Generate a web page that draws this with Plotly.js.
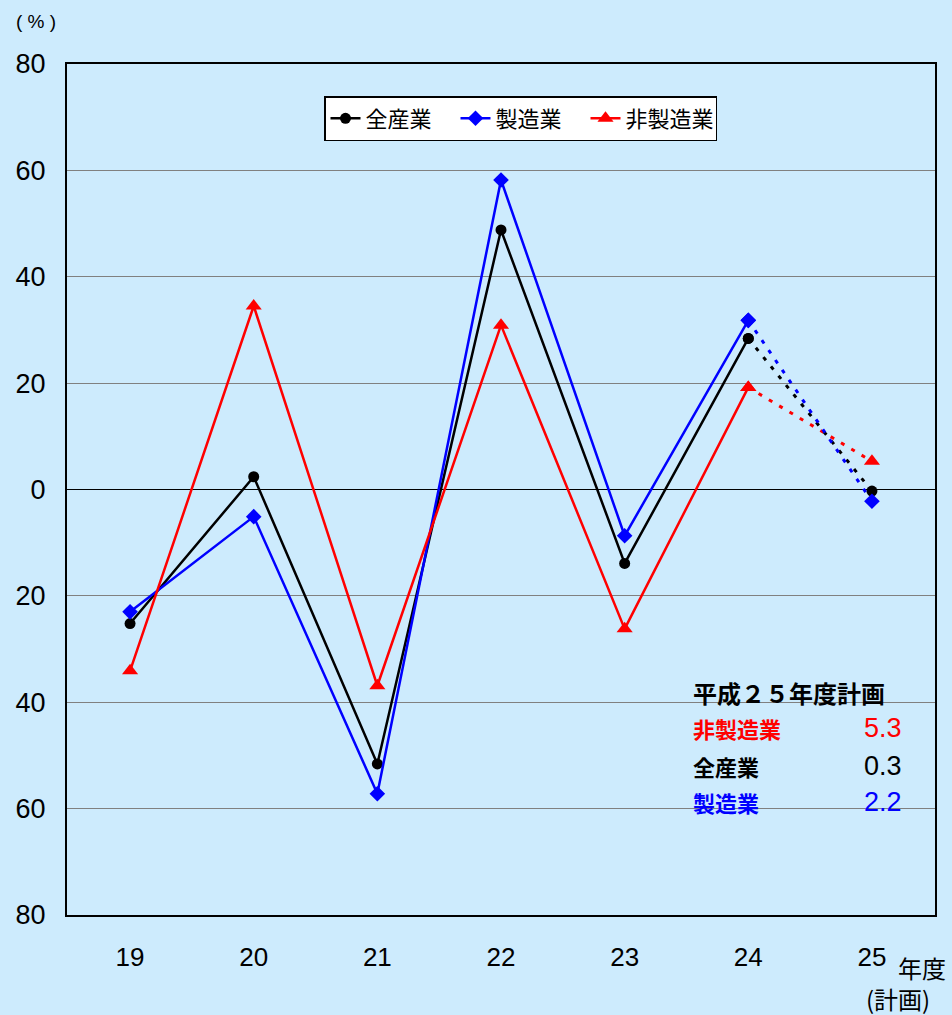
<!DOCTYPE html>
<html><head><meta charset="utf-8">
<script src="https://cdn.plot.ly/plotly-3.0.1.min.js"></script>
<style>html,body{margin:0;padding:0;background:#cdebfd;}</style>
</head><body>
<div id="chart" style="width:952px;height:1015px;"></div>
<script>
const years = [19, 20, 21, 22, 23, 24];
const yearsPlan = [24, 25];
const tickLabels = ["19", "20", "21", "22", "23", "24", "25"];
const allIndustry = [-25.2, 2.4, -51.6, 48.8, -13.9, 28.4];
const manufacturing = [-23.0, -5.1, -57.2, 58.2, -8.7, 31.8];
const nonManufacturing = [-34.1, 34.5, -36.9, 30.9, -26.2, 19.2];
const allIndustryPlan = [28.4, -0.3];
const manufacturingPlan = [31.8, -2.2];
const nonManufacturingPlan = [19.2, 5.3];
const yTickVals = [-80, -60, -40, -20, 0, 20, 40, 60, 80];
const yTickText = ["80", "60", "40", "20", "0", "20", "40", "60", "80"];
const planTitle = "平成２５年度計画";
const planNames = ["非製造業", "全産業", "製造業"];
const planValues = ["5.3", "0.3", "2.2"];

const BG = '#cdebfd';
const L = 67, R = 935, T = 64, B = 915;
const px = x => (x - L) / (R - L);
const py = y => (B - y) / (B - T);
const numFont = 'Liberation Sans, Arial, sans-serif';
const jpFont = 'Noto Sans CJK JP, sans-serif';

function solid(name, x, y, color, symbol, size) {
  return {x, y, name, type: 'scatter', mode: 'lines+markers',
    line: {color, width: 2.5}, marker: {color, symbol, size}};
}
function dotted(x, y, color, symbol, size) {
  return {x, y, type: 'scatter', mode: 'lines+markers', showlegend: false,
    line: {color, width: 3, dash: '4px,8px'}, marker: {color, symbol, size}};
}
const traces = [
  dotted(yearsPlan, nonManufacturingPlan, '#ff0000', 'triangle-up', 14),
  dotted(yearsPlan, allIndustryPlan, '#000000', 'circle', 11),
  dotted(yearsPlan, manufacturingPlan, '#0000ff', 'diamond', 12),
  solid('全産業', years, allIndustry, '#000000', 'circle', 11),
  solid('製造業', years, manufacturing, '#0000ff', 'diamond', 12),
  solid('非製造業', years, nonManufacturing, '#ff0000', 'triangle-up', 14)
];

const ann = [];
ann.push({xref:'paper', yref:'paper', x: px(691), y: py(692), xanchor:'left', yanchor:'middle',
  text: '<b>' + planTitle + '</b>', showarrow:false, font:{family: jpFont, size: 24, color:'#000'}});
const colors = ['#ff0000', '#000000', '#0000ff'];
const rowsY = [728, 766, 802];
for (let i = 0; i < 3; i++) {
  ann.push({xref:'paper', yref:'paper', x: px(691), y: py(rowsY[i]), xanchor:'left', yanchor:'middle',
    text: '<b>' + planNames[i] + '</b>', showarrow:false, font:{family: jpFont, size: 22, color: colors[i]}});
  ann.push({xref:'paper', yref:'paper', x: px(904), y: py(rowsY[i]), xanchor:'right', yanchor:'middle',
    text: planValues[i], showarrow:false, font:{family: numFont, size: 27, color: colors[i]}});
}
ann.push({xref:'paper', yref:'paper', x: px(36), y: py(22), xanchor:'center', yanchor:'middle',
  text: '( % )', showarrow:false, font:{family: numFont, size: 19, color:'#000'}});
ann.push({xref:'paper', yref:'paper', x: px(922), y: py(968), xanchor:'center', yanchor:'middle',
  text: '年度', showarrow:false, font:{family: jpFont, size: 24, color:'#000'}});
ann.push({xref:'paper', yref:'paper', x: px(898), y: py(999), xanchor:'center', yanchor:'middle',
  text: '(計画)', showarrow:false, font:{family: jpFont, size: 24, color:'#000'}});

const layout = {
  width: 952, height: 1015,
  margin: {l: L, r: 952 - R, t: T, b: 1015 - B},
  paper_bgcolor: BG, plot_bgcolor: BG,
  font: {family: numFont, color: '#000'},
  xaxis: {range: [18.49, 25.51], tickvals: [19,20,21,22,23,24,25], ticktext: tickLabels,
    showgrid: false, zeroline: false, showline: true, linecolor: '#000', linewidth: 2, mirror: true,
    ticks: '', ticklabelstandoff: 18, tickfont: {family: numFont, size: 26, color: '#000'}, fixedrange: true},
  yaxis: {range: [-80, 80], tickvals: yTickVals, ticktext: yTickText,
    showgrid: true, gridcolor: '#808080', gridwidth: 1,
    zeroline: true, zerolinecolor: '#000', zerolinewidth: 1.5,
    showline: true, linecolor: '#000', linewidth: 2, mirror: true,
    ticks: '', ticklabelstandoff: 14, tickfont: {family: numFont, size: 27, color: '#000'}, fixedrange: true},
  legend: {orientation: 'h', x: px(324), y: py(96), xanchor: 'left', yanchor: 'top',
    bgcolor: '#ffffff', bordercolor: '#000', borderwidth: 1.5, entrywidth: 85, entrywidthmode: 'pixels',
    font: {family: jpFont, size: 22, color: '#000'}, traceorder: 'normal'},
  annotations: ann,
  showlegend: true
};
Plotly.newPlot('chart', traces, layout, {displayModeBar: false, staticPlot: true});
</script>
</body></html>
